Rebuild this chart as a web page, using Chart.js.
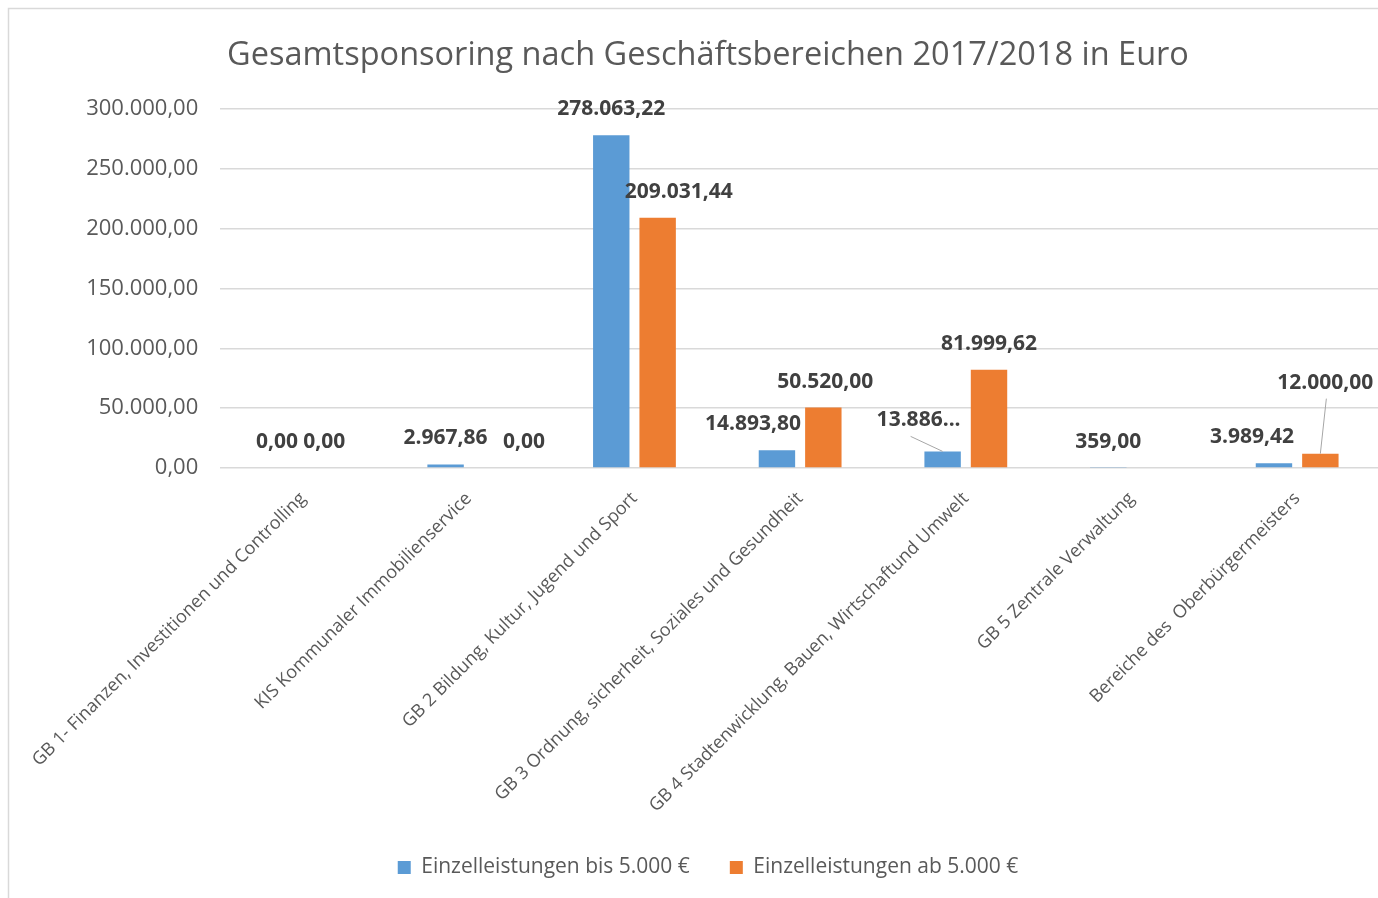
<!DOCTYPE html>
<html lang="de">
<head>
<meta charset="utf-8">
<title>Gesamtsponsoring nach Geschäftsbereichen 2017/2018</title>
<script src="https://cdn.jsdelivr.net/npm/chart.js@4.4.1/dist/chart.umd.min.js"></script>
<style>
    html, body { margin: 0; padding: 0; background: #fff; overflow: hidden; }
    #wrap { position: relative; width: 1378px; height: 898px; overflow: hidden; }
    canvas { position: absolute; left: 0; top: 0; }
</style>
</head>
<body>
<div id="wrap"><canvas id="chart" width="1416" height="930"></canvas></div>
<script>
// Categories (Geschäftsbereiche)
const categories = [
    'GB 1- Finanzen, Investitionen und Controlling',
    'KIS Kommunaler Immobilienservice',
    'GB 2 Bildung, Kultur, Jugend und Sport',
    'GB 3 Ordnung, sicherheit, Soziales und Gesundheit',
    'GB 4 Stadtenwicklung, Bauen, Wirtschaftund Umwelt',
    'GB 5 Zentrale Verwaltung',
    'Bereiche des  Oberbürgermeisters'
];

// Series names
const seriesNames = ['Einzelleistungen bis 5.000 €', 'Einzelleistungen ab 5.000 €'];

// Series values in Euro
const valuesUpTo5000 = [0, 2967.86, 278063.22, 14893.80, 13886.00, 359.00, 3989.42];
const valuesFrom5000 = [0, 0, 209031.44, 50520.00, 81999.62, null, 12000.00];

// Y axis ticks
const yTicks = [0, 50000, 100000, 150000, 200000, 250000, 300000];

const FONT = "'Open Sans', sans-serif";
const TEXT_COLOR = '#595959';

/**
 * Format a number the German way: 12.345,67
 */
function formatEuro(value) {
    const parts = value.toFixed(2).split('.');
    return parts[0].replace(/\B(?=(\d{3})+(?!\d))/g, '.') + ',' + parts[1];
}

/**
 * Manual label tweaks, like the ones dragged around in the original.
 * Keyed by "datasetIndex:index".
 */
const labelTweaks = {
    '0:0': { dx: -3 },
    '0:3': { dx: -24 },
    '0:4': { dx: -24, dy: -5, text: '13.886...', leader: -8 },
    '0:6': { dx: -22 },
    '1:0': { dx: -2 },
    '1:1': { dx: 32 },
    '1:2': { dx: 21 },
    '1:3': { dx: 2 },
    '1:6': { dx: 5, dy: -45, leader: 1 }
};

/**
 * Draws the value labels above the bars.
 */
const valueLabels = {
    id: 'valueLabels',
    afterDatasetsDraw(chart) {
        const ctx = chart.ctx;
        ctx.save();
        ctx.font = `bold 21px ${FONT}`;
        ctx.fillStyle = '#404040';
        ctx.textAlign = 'center';
        ctx.textBaseline = 'middle';
        chart.data.datasets.forEach((dataset, di) => {
            const meta = chart.getDatasetMeta(di);
            meta.data.forEach((bar, i) => {
                const value = dataset.data[i];
                if (value === null || value === undefined) {
                    return;
                }
                const tweak = labelTweaks[`${di}:${i}`] || {};
                const x = bar.x + (tweak.dx || 0);
                const y = bar.y - 26 + (tweak.dy || 0);
                ctx.fillText(tweak.text || formatEuro(value), x, y);
                if (tweak.leader !== undefined) {
                    ctx.beginPath();
                    ctx.strokeStyle = '#a6a6a6';
                    ctx.lineWidth = 1;
                    ctx.moveTo(x + tweak.leader, y + 16);
                    ctx.lineTo(bar.x, bar.y);
                    ctx.stroke();
                }
            });
        });
        ctx.restore();
    }
};

/**
 * Draws the thin chart frame.
 */
const chartFrame = {
    id: 'chartFrame',
    beforeDraw(chart) {
        const ctx = chart.ctx;
        ctx.save();
        ctx.strokeStyle = '#d9d9d9';
        ctx.lineWidth = 1.5;
        ctx.strokeRect(8.5, 8.5, 3000, 3000);
        ctx.restore();
    }
};

document.addEventListener('DOMContentLoaded', function () {
    const ctx = document.getElementById('chart').getContext('2d');
    new Chart(ctx, {
        type: 'bar',
        data: {
            labels: categories,
            datasets: [
                {
                    label: seriesNames[0],
                    data: valuesUpTo5000,
                    backgroundColor: '#5B9BD5',
                    categoryPercentage: 0.56,
                    barPercentage: 0.785
                },
                {
                    label: seriesNames[1],
                    data: valuesFrom5000,
                    backgroundColor: '#ED7D31',
                    categoryPercentage: 0.56,
                    barPercentage: 0.785
                }
            ]
        },
        options: {
            responsive: false,
            animation: false,
            layout: { padding: { left: 8, right: 8, top: 8, bottom: 42 } },
            plugins: {
                title: {
                    display: true,
                    text: 'Gesamtsponsoring nach Geschäftsbereichen 2017/2018 in Euro',
                    color: TEXT_COLOR,
                    font: { family: FONT, size: 32.5, weight: 'normal' },
                    padding: { top: 28, bottom: 34 }
                },
                legend: {
                    position: 'bottom',
                    labels: {
                        boxWidth: 13,
                        boxHeight: 13,
                        color: TEXT_COLOR,
                        font: { family: FONT, size: 21 },
                        padding: 40
                    }
                },
                tooltip: { enabled: false }
            },
            scales: {
                x: {
                    grid: { display: false, drawTicks: false },
                    border: { display: false },
                    ticks: {
                        autoSkip: false,
                        maxRotation: 45,
                        minRotation: 45,
                        color: TEXT_COLOR,
                        font: { family: FONT, size: 18 },
                        padding: 20
                    },
                    afterFit(axis) { axis.height = 349; }
                },
                y: {
                    min: 0,
                    max: 300000,
                    afterBuildTicks(axis) { axis.ticks = yTicks.map(v => ({ value: v })); },
                    ticks: {
                        color: TEXT_COLOR,
                        font: { family: FONT, size: 22 },
                        padding: 22,
                        callback: v => formatEuro(v)
                    },
                    grid: { color: '#d9d9d9', lineWidth: 1.5, drawTicks: false, tickLength: 0 },
                    border: { display: false },
                    afterFit(axis) { axis.width = 210; }
                },
                spacer: {
                    position: 'right',
                    grid: { display: false, drawTicks: false },
                    ticks: { display: false },
                    border: { display: false },
                    afterFit(axis) { axis.width = 28; }
                }
            }
        },
        plugins: [chartFrame, valueLabels]
    });
});
</script>
</body>
</html>
